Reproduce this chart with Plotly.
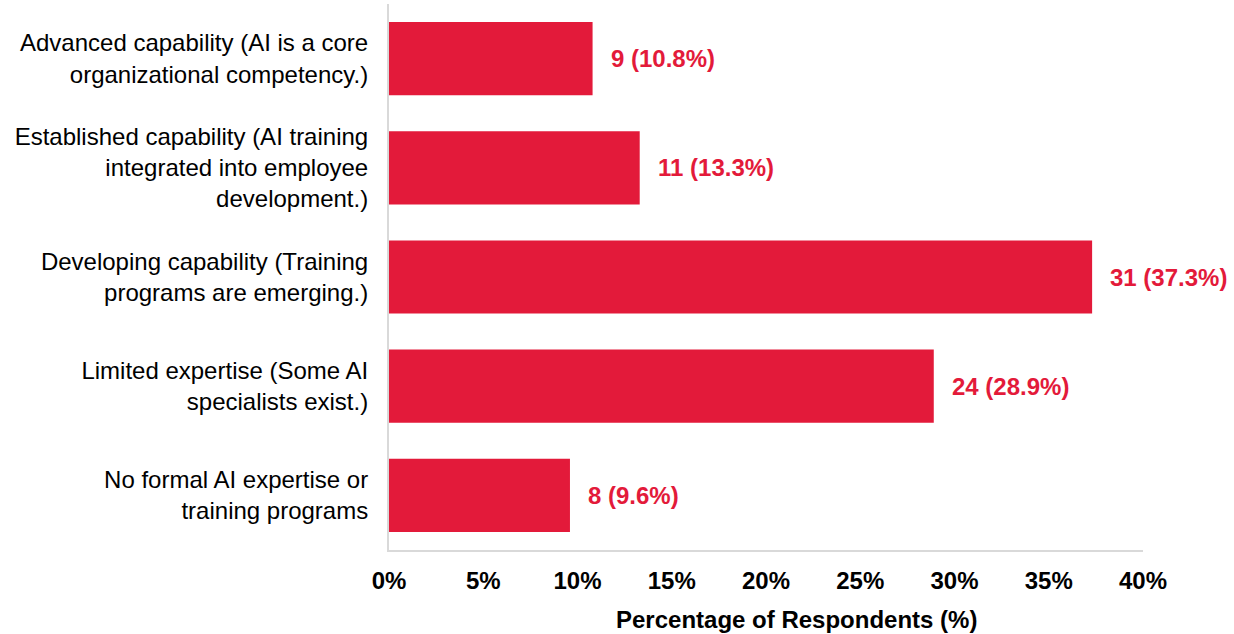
import plotly.graph_objects as go

categories = [
    "Advanced capability (AI is a core<br>organizational competency.)",
    "Established capability (AI training<br>integrated into employee<br>development.)",
    "Developing capability (Training<br>programs are emerging.)",
    "Limited expertise (Some AI<br>specialists exist.)",
    "No formal AI expertise or<br>training programs",
]
counts = [9, 11, 31, 24, 8]
percents = [10.8, 13.3, 37.3, 28.9, 9.6]
x_ticks = [0, 5, 10, 15, 20, 25, 30, 35, 40]

RED = "#E31A3A"
FONT = "Liberation Sans, Arial, sans-serif"

fig = go.Figure()
fig.add_trace(go.Bar(
    x=percents, y=categories, orientation="h",
    marker=dict(color=RED, line=dict(width=0)),
    hoverinfo="skip",
))

for c, p, cat in zip(counts, percents, categories):
    fig.add_annotation(
        x=p, y=cat, xref="x", yref="y",
        text=f"{c} ({p}%)", showarrow=False,
        xanchor="left", yanchor="middle", xshift=16,
        font=dict(family=FONT, size=24, color=RED, weight="bold"),
    )

fig.add_annotation(
    x=0.541, y=-0.127, xref="paper", yref="paper",
    text="Percentage of Respondents (%)", showarrow=False,
    xanchor="center", yanchor="middle",
    font=dict(family=FONT, size=24, color="#000000", weight="bold"),
)

fig.update_layout(
    width=1234, height=634,
    margin=dict(l=389, r=91, t=4, b=84),
    paper_bgcolor="white", plot_bgcolor="white",
    bargap=0.33,
    showlegend=False,
    font=dict(family=FONT, size=24, color="#000000"),
    xaxis=dict(
        range=[0, 40], tickvals=x_ticks, ticktext=[f"{t}%" for t in x_ticks],
        showgrid=False, zeroline=False,
        showline=True, linecolor="#D9D9D9", linewidth=2,
        ticks="", ticklabelstandoff=8,
        tickfont=dict(family=FONT, size=24, color="#000000", weight="bold"),
        fixedrange=True,
    ),
    yaxis=dict(
        autorange="reversed",
        showgrid=False, zeroline=False,
        showline=True, linecolor="#D9D9D9", linewidth=2,
        ticks="", ticklabelstandoff=14,
        tickfont=dict(family=FONT, size=24, color="#000000"),
        fixedrange=True,
    ),
)

fig.write_html("out.html")
